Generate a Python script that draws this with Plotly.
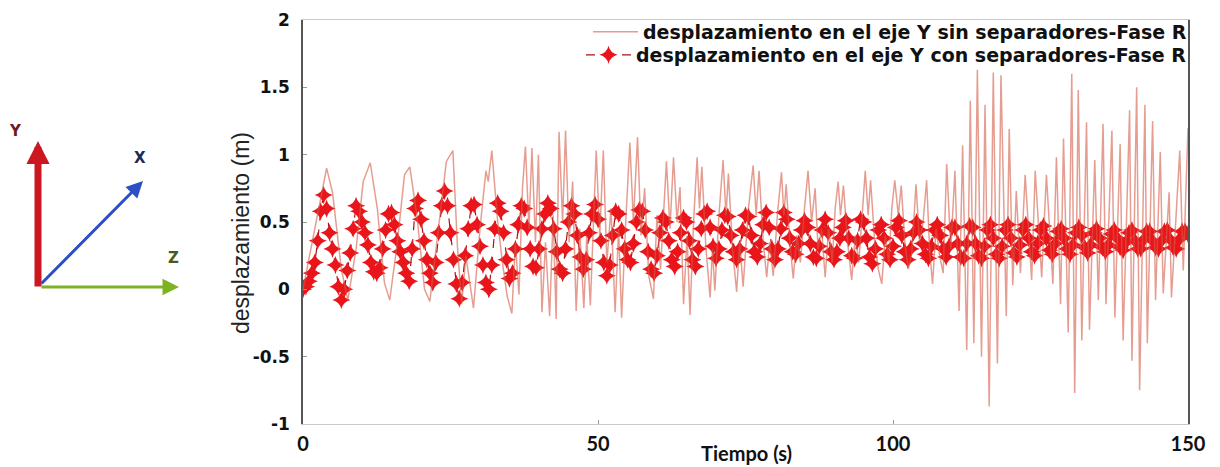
import numpy as np
import plotly.graph_objects as go

# Desplazamiento en el eje Y - Fase R (sin separadores): extremos de la señal
t_sin = [
    0.0, 2.0, 4.0, 5.0, 6.5, 7.6, 9.0, 10.2, 11.4, 12.6, 13.8, 14.7, 16.0, 17.2, 18.1, 19.3,
    20.6, 21.5, 22.8, 24.3, 25.4, 26.2, 26.9, 27.6, 28.9, 30.0, 31.0, 31.4, 32.0, 33.0, 33.8,
    34.6, 35.4, 36.0, 36.6, 37.2, 37.7, 38.3, 38.8, 39.4, 39.9, 40.5, 41.1, 41.8, 42.4, 42.9,
    43.4, 44.0, 44.5, 45.1, 45.7, 46.3, 46.9, 47.6, 48.1, 48.7, 49.7, 50.3, 50.9, 51.5, 52.2,
    52.9, 53.5, 54.0, 54.7, 55.4, 56.0, 56.7, 57.3, 57.9, 58.6, 59.4, 60.0, 60.6, 61.6, 62.2,
    62.8, 63.4, 63.9, 64.5, 65.1, 65.6, 66.2, 66.8, 67.2, 67.6, 68.3, 69.0, 69.4, 69.8, 70.5,
    71.2, 71.7, 72.1, 72.8, 73.5, 74.0, 74.6, 75.5, 76.3, 76.8, 77.3, 78.0, 78.6, 79.1, 79.7,
    80.4, 81.1, 81.5, 81.9, 82.5, 83.1, 83.7, 84.3, 85.0, 85.6, 86.2, 86.8, 87.3, 87.9, 88.5,
    89.1, 89.7, 90.2, 90.7, 91.1, 91.6, 92.3, 93.0, 93.6, 94.2, 94.8, 95.3, 95.8, 96.2, 96.9,
    97.5, 98.1, 98.7, 99.3, 99.8, 100.3, 100.9, 101.4, 102.0, 102.6, 103.2, 103.9, 104.5,
    105.1, 105.7, 106.2, 106.7, 107.3, 107.9, 108.5, 109.1, 109.8, 110.5, 111.2, 111.8, 112.5,
    113.1, 113.7, 114.3, 115.0, 115.6, 116.3, 117.0, 117.7, 118.3, 119.2, 119.7, 120.3, 120.9,
    121.6, 122.4, 123.5, 124.1, 125.2, 126.0, 127.1, 127.7, 128.4, 128.9, 129.7, 130.3, 130.8,
    131.4, 132.0, 132.8, 133.3, 134.2, 134.8, 135.6, 136.1, 137.1, 137.6, 138.5, 139.0, 140.1,
    140.5, 141.3, 141.8, 142.7, 143.1, 144.0, 144.5, 145.3, 145.8, 146.8, 147.2, 148.6, 149.2,
    150.0,
]
y_sin = [
    0.00, 0.45, 0.90, 0.72, 0.15, -0.08, 0.30, 0.80, 0.94, 0.60, 0.05, -0.08, 0.35, 0.85, 0.91, 0.55,
    0.00, -0.09, 0.40, 0.95, 1.03, 0.30, -0.11, 0.25, -0.14, 0.45, 0.88, 0.80, 1.03, 0.50, 0.20,
    -0.05, -0.18, 0.35, -0.04, 0.75, 1.06, 0.45, 1.05, 0.35, 1.00, -0.17, 0.35, -0.20, 0.55, -0.22,
    1.17, 0.50, 1.18, 0.35, 0.80, -0.16, 0.45, -0.14, 0.40, -0.12, 1.03, 0.40, 1.03, 0.20, 0.60,
    -0.17, 0.45, -0.21, 0.50, 1.09, 0.50, 1.13, 0.40, 0.75, 0.10, -0.07, 0.55, 0.15, 0.95, 0.45,
    0.98, 0.50, 0.76, -0.11, 0.40, -0.19, 0.50, 0.98, 0.60, 0.91, 0.30, -0.06, 0.30, -0.01, 0.55,
    0.96, 0.55, 0.86, 0.30, -0.02, 0.35, 0.02, 0.60, 0.92, 0.55, 0.88, 0.35, 0.09, 0.35, 0.10,
    0.55, 0.87, 0.55, 0.78, 0.35, 0.08, 0.40, 0.20, 0.60, 0.88, 0.50, 0.75, 0.30, 0.45, 0.09,
    0.45, 0.20, 0.60, 0.80, 0.55, 0.77, 0.35, 0.07, 0.40, 0.20, 0.60, 0.88, 0.55, 0.81, 0.35,
    0.15, 0.04, 0.40, 0.20, 0.60, 0.81, 0.55, 0.77, 0.35, 0.15, 0.27, 0.78, 0.35,
    0.50, 0.81, 0.30, 0.04, 0.45, 0.25, 0.12, 0.93, 0.30, 0.88, -0.16, 1.07, -0.45,
    1.40, -0.40, 1.63, -0.50, 1.37, -0.87, 1.61, -0.55, 1.59, -0.20, 1.19, 0.03, 0.73,
    0.12, 0.85, 0.07, 0.88, 0.09, 0.85, 0.04, 0.98, -0.11, 1.12, -0.32, 1.60, -0.77,
    1.48, -0.38, 1.24, -0.30, 0.96, -0.08, 1.23, -0.11, 1.18, -0.21, 1.08, -0.38, 1.33,
    -0.53, 1.50, -0.75, 1.37, -0.40, 1.25, -0.08, 1.02, -0.03, 0.72, -0.06, 1.03, 0.14,
    1.20,
]

# Desplazamiento en el eje Y - Fase R (con separadores), muestreado cada 0.5 s
t_con = np.arange(0.0, 150.0 + 0.25, 0.5)
y_con = [
    0.00, 0.02, 0.06, 0.12, 0.20, 0.36, 0.58, 0.70, 0.60, 0.42,   # 0 - 4.5
    0.30, 0.18, 0.02, -0.08, 0.00, 0.14, 0.27, 0.45, 0.62, 0.58,  # 5 - 9.5
    0.50, 0.42, 0.33, 0.20, 0.13, 0.12, 0.16, 0.30, 0.44, 0.56,   # 10 - 14.5
    0.57, 0.48, 0.36, 0.28, 0.20, 0.12, 0.06, 0.30, 0.60, 0.66,   # 15 - 19.5
    0.52, 0.36, 0.22, 0.12, 0.05, 0.20, 0.42, 0.62, 0.73, 0.62,   # 20 - 24.5
    0.42, 0.22, 0.04, -0.07, 0.05, 0.25, 0.45, 0.62, 0.63, 0.48,  # 25 - 29.5
    0.32, 0.18, 0.05, 0.00, 0.18, 0.45, 0.64, 0.58, 0.42, 0.22,   # 30 - 34.5
    0.08, 0.12, 0.30, 0.48, 0.62, 0.60, 0.46, 0.30, 0.17, 0.16,   # 35 - 39.5
    0.30, 0.45, 0.56, 0.64, 0.60, 0.45, 0.28, 0.15, 0.12, 0.30,   # 40 - 44.5
    0.50, 0.62, 0.56, 0.40, 0.24, 0.15, 0.22, 0.42, 0.56, 0.63,   # 45 - 49.5
    0.52, 0.36, 0.20, 0.10, 0.18, 0.40, 0.58, 0.56, 0.44, 0.30,   # 50 - 54.5
    0.22, 0.20, 0.34, 0.50, 0.59, 0.58, 0.44, 0.28, 0.15, 0.12,   # 55 - 59.5
    0.25, 0.42, 0.53, 0.50, 0.36, 0.22, 0.17, 0.28, 0.42, 0.53,   # 60 - 64.5
    0.50, 0.36, 0.22, 0.17, 0.30, 0.45, 0.56, 0.58, 0.46, 0.32,   # 65 - 69.5
    0.23, 0.30, 0.44, 0.55, 0.54, 0.40, 0.28, 0.22, 0.30, 0.44,   # 70 - 74.5
    0.55, 0.54, 0.40, 0.28, 0.24, 0.34, 0.48, 0.57, 0.46, 0.30,   # 75 - 79.5
    0.22, 0.30, 0.45, 0.57, 0.52, 0.38, 0.28, 0.26, 0.34, 0.44,   # 80 - 84.5
    0.51, 0.46, 0.34, 0.24, 0.23, 0.32, 0.44, 0.52, 0.42, 0.28,   # 85 - 89.5
    0.22, 0.28, 0.38, 0.46, 0.51, 0.38, 0.25, 0.23, 0.36, 0.52,   # 90 - 94.5
    0.50, 0.38, 0.24, 0.19, 0.30, 0.44, 0.48, 0.38, 0.26, 0.22,   # 95 - 99.5
    0.32, 0.46, 0.51, 0.40, 0.28, 0.22, 0.30, 0.42, 0.50, 0.44,   # 100 - 104.5
    0.34, 0.26, 0.23, 0.32, 0.44, 0.48, 0.40, 0.30, 0.24, 0.32,   # 105 - 109.5
    0.46, 0.46, 0.34, 0.24, 0.23, 0.34, 0.47, 0.46, 0.34, 0.25,   # 110 - 114.5
    0.23, 0.32, 0.44, 0.48, 0.38, 0.26, 0.23, 0.32, 0.44, 0.48,   # 115 - 119.5
    0.38, 0.27, 0.24, 0.33, 0.44, 0.48, 0.38, 0.28, 0.25, 0.34,   # 120 - 124.5
    0.44, 0.47, 0.38, 0.29, 0.26, 0.34, 0.43, 0.45, 0.38, 0.30,   # 125 - 129.5
    0.26, 0.33, 0.42, 0.46, 0.40, 0.31, 0.27, 0.33, 0.42, 0.45,   # 130 - 134.5
    0.38, 0.31, 0.28, 0.33, 0.41, 0.44, 0.38, 0.31, 0.29, 0.35,   # 135 - 139.5
    0.42, 0.44, 0.36, 0.30, 0.30, 0.37, 0.43, 0.43, 0.36, 0.31,   # 140 - 144.5
    0.30, 0.36, 0.43, 0.44, 0.37, 0.31, 0.30, 0.37, 0.43, 0.43,   # 145 - 149.5
    0.41,                                                         # 150
]

y_ticks = [-1, -0.5, 0, 0.5, 1, 1.5, 2]
y_tick_text = ["-1", "-0.5", "0", "0.5", "1", "1.5", "2"]
x_ticks = [0, 50, 100, 150]
x_tick_text = ["0", "50", "100", "150"]

name_sin = "desplazamiento en el eje Y sin separadores-Fase R"
name_con = "desplazamiento en el eje Y con separadores-Fase R"

fig = go.Figure()

fig.add_trace(go.Scatter(
    x=t_con, y=y_con, name=name_con, mode="lines+markers",
    line=dict(color="#a3151a", width=1.2, dash="dash"),
    marker=dict(symbol="star-diamond", size=13, color="#e8161b", line=dict(width=0)),
    legend="legend2",
))

fig.add_trace(go.Scatter(
    x=t_sin, y=y_sin, name=name_sin, mode="lines",
    line=dict(color="rgba(214,92,72,0.6)", width=1.5),
    legend="legend",
))

# Geometría de la figura en píxeles
W, H, L, R, T, B = 1220, 467, 303, 32, 20, 43
PW, PH = W - L - R, H - T - B


def px(x):
    return (x - L) / PW


def py(y):
    return (H - B - y) / PH


# Sistema de ejes de referencia (icono a la izquierda)
arrows = [
    # (cabeza x, cabeza y, desplazamiento cola x, y, color, ancho, tamaño)
    (38, 141, 0, 147, "#cc1620", 7, 0.66),
    (143, 181, -103, 104, "#2b4fc4", 3, 1.1),
    (179, 287, -139, 0, "#7db320", 3, 1.1),
]
annotations = []
for hx, hy, dx, dy, col, w, s in arrows:
    annotations.append(dict(
        x=px(hx), y=py(hy), xref="paper", yref="paper",
        ax=dx, ay=dy, axref="pixel", ayref="pixel",
        showarrow=True, arrowhead=2, arrowwidth=w, arrowsize=s, arrowcolor=col, text="",
    ))

labels = [("Y", 15, 131, "#6e1820"), ("X", 140, 158, "#1d2a55"), ("Z", 173, 258, "#4d5a1c")]
for txt, lx, ly, col in labels:
    annotations.append(dict(
        x=px(lx), y=py(ly), xref="paper", yref="paper", text=txt, showarrow=False,
        font=dict(family="DejaVu Sans", size=15, color=col, weight="bold"),
        xanchor="center", yanchor="middle",
    ))

# Títulos de los ejes
annotations.append(dict(
    x=px(241), y=py(233), xref="paper", yref="paper", text="desplazamiento (m)",
    showarrow=False, textangle=-90, xanchor="center", yanchor="middle",
    font=dict(family="Liberation Sans", size=23, color="#222"),
))
annotations.append(dict(
    x=px(746), y=py(453), xref="paper", yref="paper", text="Tiempo (s)",
    showarrow=False, xanchor="center", yanchor="middle",
    font=dict(family="Lato", size=20, color="#111", weight="bold"),
))

legend_font = dict(family="DejaVu Sans", size=19, color="#111", weight="bold")

fig.update_layout(
    width=W, height=H,
    margin=dict(l=L, r=R, t=T, b=B, autoexpand=False),
    paper_bgcolor="white", plot_bgcolor="white",
    showlegend=True,
    legend=dict(
        x=px(1192), xanchor="right", y=py(32), yanchor="middle",
        bgcolor="rgba(255,255,255,0)", borderwidth=0,
        font=legend_font, itemwidth=45,
    ),
    legend2=dict(
        x=px(1192), xanchor="right", y=py(55), yanchor="middle",
        bgcolor="rgba(255,255,255,0)", borderwidth=0,
        font=legend_font, itemwidth=45,
    ),
    annotations=annotations,
    xaxis=dict(
        range=[0, 150], tickvals=x_ticks, ticktext=x_tick_text,
        showgrid=False, zeroline=False, automargin=False,
        showline=True, linecolor="#c9c9c9", linewidth=1, mirror=True,
        ticks="inside", ticklen=4, tickcolor="#999",
        tickfont=dict(family="Lato", size=20, color="#111", weight="bold"),
        ticklabelstandoff=2,
    ),
    yaxis=dict(
        range=[-1, 2], tickvals=y_ticks, ticktext=y_tick_text,
        showgrid=False, zeroline=False, automargin=False,
        showline=True, linecolor="#555", linewidth=1.5, mirror=True,
        ticks="inside", ticklen=4, tickcolor="#999",
        tickfont=dict(family="DejaVu Sans", size=17, color="#111", weight="bold"),
        ticklabelstandoff=8,
    ),
)

fig.write_html("out.html", config={"displayModeBar": False})
